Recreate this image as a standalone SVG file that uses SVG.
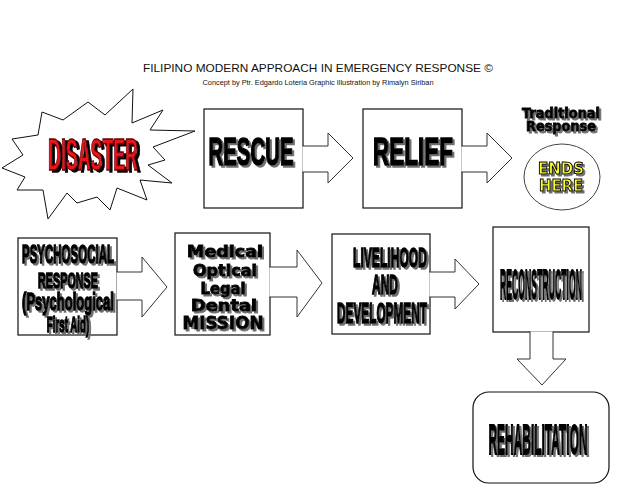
<svg xmlns="http://www.w3.org/2000/svg" width="638" height="493" viewBox="0 0 638 493">
<style>
.box{fill:#fff;stroke:#111;stroke-width:1.2}
.arr{fill:#fff;stroke:#333;stroke-width:1}
.title{font-family:"Liberation Sans",Arial,sans-serif;fill:#111}
.cond{font-family:"Liberation Sans",Arial,sans-serif;font-weight:bold;fill:#000;stroke:#000;stroke-width:1.3;vector-effect:non-scaling-stroke;text-anchor:middle}
.heavy{font-family:"DejaVu Sans","Liberation Sans",sans-serif;font-weight:bold;fill:#000;stroke:#000;stroke-width:0.9;text-anchor:middle}
.yel{font-family:"DejaVu Sans","Liberation Sans",sans-serif;font-weight:bold;fill:#ffff33;stroke:#000;stroke-width:1;text-anchor:middle}
</style>
<defs>
<filter id="sh" x="-10%" y="-10%" width="130%" height="140%">
<feOffset in="SourceAlpha" dx="2" dy="2" result="o"/>
<feFlood flood-color="#6e6e6e"/>
<feComposite in2="o" operator="in" result="s"/>
<feMerge><feMergeNode in="s"/><feMergeNode in="SourceGraphic"/></feMerge>
</filter>
<filter id="shb" x="-10%" y="-10%" width="130%" height="140%">
<feOffset in="SourceAlpha" dx="2.5" dy="2" result="o"/>
<feFlood flood-color="#000"/>
<feComposite in2="o" operator="in" result="s"/>
<feMerge><feMergeNode in="s"/><feMergeNode in="SourceGraphic"/></feMerge>
</filter>
</defs>
<rect width="638" height="493" fill="#fff"/>

<g id="title">
<text class="title" x="318" y="72" font-size="11.5" text-anchor="middle" textLength="350" lengthAdjust="spacingAndGlyphs">FILIPINO MODERN APPROACH IN EMERGENCY RESPONSE ©</text>
<text class="title" x="318" y="85" font-size="6.5" text-anchor="middle" textLength="231" lengthAdjust="spacingAndGlyphs">Concept by Ptr. Edgardo Loteria Graphic Illustration by Rimalyn Siriban</text>
</g>

<g id="disaster">
<polygon fill="#fff" stroke="#111" stroke-width="1" points="42,112 63,120 88,102 105,115 133,89 132,123 163,110 150,130 195,131 153,147 165,160 148,165 172,183 140,180 147,200 117,188 110,210 97,197 77,203 67,193 48,219 43,190 17,190 25,177 2,168 23,155 12,139 38,135"/>
<g filter="url(#shb)"><text transform="translate(93,170) scale(0.404,1)" x="0" y="0" font-family="Liberation Sans,Arial,sans-serif" font-weight="bold" font-size="44" fill="#e8141b" stroke="#5a0000" stroke-width="1" vector-effect="non-scaling-stroke" text-anchor="middle">DISASTER</text></g>
</g>

<g id="rescue">
<rect class="box" x="204" y="109" width="99" height="99"/>
<g filter="url(#sh)"><text class="cond" transform="translate(251,165) scale(0.537,1)" font-size="38">RESCUE</text></g>
</g>

<g id="relief">
<rect class="box" x="363" y="109" width="99" height="99"/>
<g filter="url(#sh)"><text class="cond" transform="translate(413,165) scale(0.592,1)" font-size="38">RELIEF</text></g>
</g>

<g id="traditional">
<g filter="url(#sh)">
<text class="heavy" x="561" y="118" font-size="14" textLength="78" lengthAdjust="spacingAndGlyphs">Traditional</text>
<text class="heavy" x="561" y="131" font-size="14" textLength="70" lengthAdjust="spacingAndGlyphs">Response</text>
</g>
<ellipse cx="562" cy="177" rx="38" ry="33" fill="#fff" stroke="#444" stroke-width="1"/>
<g filter="url(#sh)">
<text class="yel" x="561" y="174" font-size="16.5" textLength="46" lengthAdjust="spacingAndGlyphs">ENDS</text>
<text class="yel" x="561" y="190.5" font-size="16.5" textLength="44" lengthAdjust="spacingAndGlyphs">HERE</text>
</g>
</g>

<g id="psychosocial">
<rect class="box" x="18" y="238" width="99" height="97"/>
<g filter="url(#sh)">
<text class="cond" transform="translate(68,263) scale(0.46,1)" font-size="25">PSYCHOSOCIAL</text>
<text class="cond" transform="translate(68,288) scale(0.49,1)" font-size="22">RESPONSE</text>
<text class="cond" transform="translate(68,310) scale(0.543,1)" font-size="24">(Psychological</text>
<text class="cond" transform="translate(68,332) scale(0.445,1)" font-size="22">First Aid)</text>
</g>
</g>

<g id="medical">
<rect class="box" x="175" y="233" width="95" height="102"/>
<g filter="url(#sh)">
<text class="heavy" x="225" y="257" font-size="15.5" textLength="76" lengthAdjust="spacingAndGlyphs">Medical</text>
<text class="heavy" x="225" y="276" font-size="15.5" textLength="64" lengthAdjust="spacingAndGlyphs">Optical</text>
<text class="heavy" x="223" y="294" font-size="15.5" textLength="45" lengthAdjust="spacingAndGlyphs">Legal</text>
<text class="heavy" x="224" y="311" font-size="15.5" textLength="66" lengthAdjust="spacingAndGlyphs">Dental</text>
<text class="heavy" x="223" y="329" font-size="18.5" textLength="81" lengthAdjust="spacingAndGlyphs">MISSION</text>
</g>
</g>

<g id="livelihood">
<rect class="box" x="332" y="234" width="98" height="100"/>
<g filter="url(#sh)">
<text class="cond" transform="translate(390,267) scale(0.432,1)" font-size="28">LIVELIHOOD</text>
<text class="cond" transform="translate(385,294) scale(0.429,1)" font-size="28">AND</text>
<text class="cond" transform="translate(382,323) scale(0.394,1)" font-size="30">DEVELOPMENT</text>
</g>
</g>

<g id="reconstruction">
<rect class="box" x="493" y="227" width="96" height="105"/>
<g filter="url(#sh)"><text class="cond" transform="translate(541,299) scale(0.207,1)" font-size="42">RECONSTRUCTION</text></g>
</g>

<g id="rehabilitation">
<rect class="box" x="473" y="392" width="136" height="91" rx="16"/>
<g filter="url(#sh)"><text class="cond" transform="translate(538,454) scale(0.278,1)" font-size="43">REHABILITATION</text></g>
</g>

<g id="connectors">
<path class="arr" d="M302.4,146 H328 V133 L353,158 L328,183 V172 H302.4"/>
<path class="arr" d="M461.4,146 H487 V133 L512,158 L487,183 V172 H461.4"/>
<path class="arr" d="M116.6,272 H142 V257 L167,287 L142,317 V300 H116.6"/>
<path class="arr" d="M269.4,267 H297 V250 L322,283 L297,317 V297 H269.4"/>
<path class="arr" d="M429.4,272 H455 V259 L479,284 L455,309 V297 H429.4"/>
<path class="arr" d="M530,331.4 V359 H517 L542,385 L566,359 H553 V331.4"/>
</g>
</svg>
